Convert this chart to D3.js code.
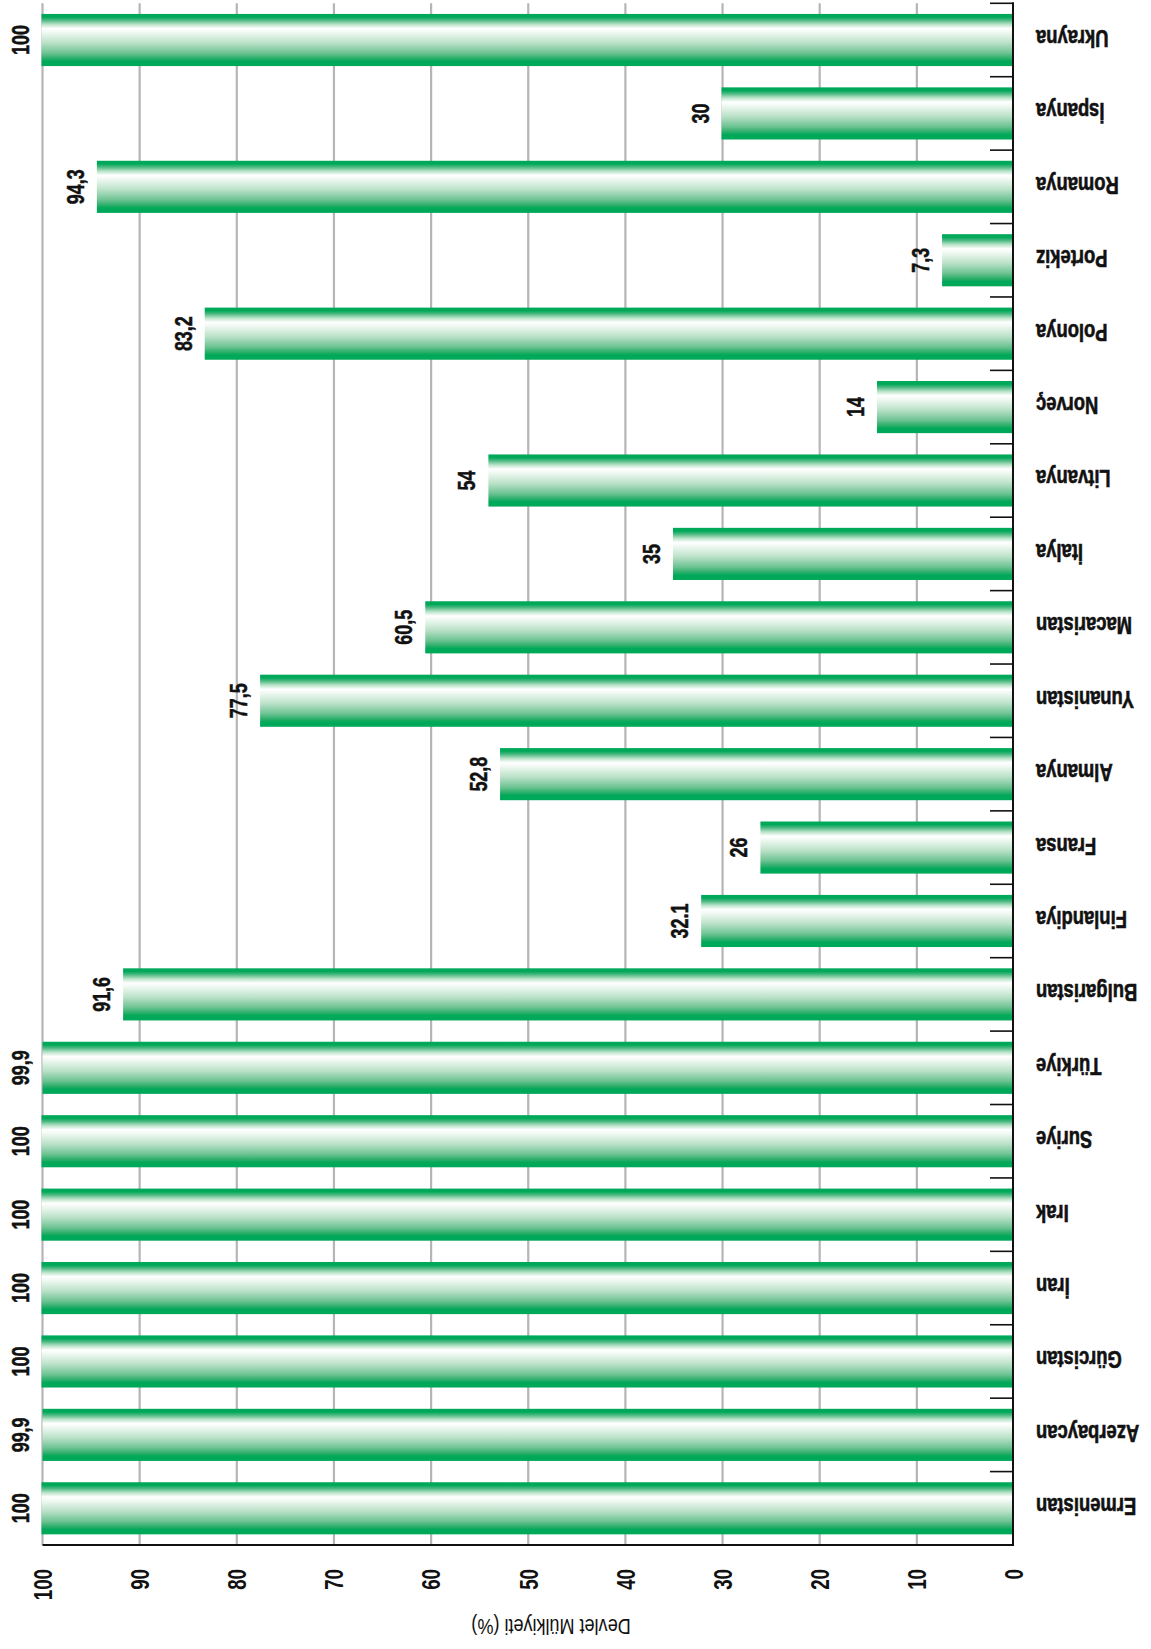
<!DOCTYPE html>
<html>
<head>
<meta charset="utf-8">
<script src="https://cdn.jsdelivr.net/npm/d3@7"></script>
<style>
  html, body { margin: 0; padding: 0; background: #ffffff; }
  svg { display: block; }
</style>
</head>
<body>
<script>
// ---- data ----
const categories = ["Ermenistan", "Azerbaycan", "Gürcistan", "İran", "Irak", "Suriye", "Türkiye",
  "Bulgaristan", "Finlandiya", "Fransa", "Almanya", "Yunanistan", "Macaristan", "İtalya",
  "Litvanya", "Norveç", "Polonya", "Portekiz", "Romanya", "İspanya", "Ukrayna"];
const values = [100, 99.9, 100, 100, 100, 100, 99.9,
  91.6, 32.1, 26, 52.8, 77.5, 60.5, 35,
  54, 14, 83.2, 7.3, 94.3, 30, 100];
const valueLabels = ["100", "99,9", "100", "100", "100", "100", "99,9",
  "91,6", "32.1", "26", "52,8", "77,5", "60,5", "35",
  "54", "14", "83,2", "7,3", "94,3", "30", "100"];
const tickValues = [0, 10, 20, 30, 40, 50, 60, 70, 80, 90, 100];
const axisTitle = "Devlet Mülkiyeti (%)";

// ---- layout ----
const W = 1151, H = 1649;
const plotLeft = 41.5, plotRight = 1013, plotTop = 3.3, plotBottom = 1545;
const font = "'Liberation Sans', Arial, sans-serif";

const svg = d3.select("body").append("svg").attr("width", W).attr("height", H);

const defs = svg.append("defs");
const grad = defs.append("linearGradient").attr("id", "barGrad")
  .attr("x1", 0).attr("y1", 0).attr("x2", 0).attr("y2", 1);
[[0, "#00a859"], [0.06, "#00a859"], [0.12, "#4cb982"], [0.2, "#b8e3c8"], [0.28, "#ffffff"],
 [0.34, "#f3faf5"], [0.55, "#bce2c9"], [0.75, "#6dc393"], [0.85, "#2daf6a"], [0.91, "#00a859"], [1, "#00a859"]]
  .forEach(([o, c]) => grad.append("stop").attr("offset", o).attr("stop-color", c));

const x = d3.scaleLinear().domain([0, 100]).range([plotRight, plotLeft]);
const y = d3.scaleBand().domain(categories.slice().reverse())
  .range([plotTop, plotBottom]).paddingInner(0.29).paddingOuter(0.145);

const data = categories.map((c, i) => ({ c, v: values[i], label: valueLabels[i] }));

// gridlines
svg.append("g").selectAll("line").data(tickValues.filter(t => t !== 0)).join("line")
  .attr("x1", d => x(d) + 1).attr("x2", d => x(d) + 1)
  .attr("y1", plotTop).attr("y2", plotBottom)
  .attr("stroke", "#b5b5b5").attr("stroke-width", 2.2);

// bars
svg.append("g").selectAll("rect").data(data).join("rect")
  .attr("x", d => x(d.v)).attr("y", d => y(d.c))
  .attr("width", d => x(0) - x(d.v)).attr("height", y.bandwidth())
  .attr("fill", "url(#barGrad)");

// value labels
svg.append("g").selectAll("text").data(data).join("text")
  .attr("transform", d => `translate(${x(d.v) - 13},${y(d.c) + y.bandwidth() / 2}) rotate(-90) scale(0.78,1)`)
  .attr("text-anchor", "middle")
  .attr("font-family", font).attr("font-weight", "bold").attr("font-size", 23)
  .attr("fill", "#111").attr("stroke", "#111").attr("stroke-width", 0.5)
  .text(d => d.label);

// category axis (right side)
const step = y.step();
const boundaries = d3.range(categories.length + 1).map(i => plotTop + i * step);
svg.append("g").selectAll("line").data(boundaries).join("line")
  .attr("x1", plotRight - 23).attr("x2", plotRight)
  .attr("y1", d => d).attr("y2", d => d)
  .attr("stroke", "#111").attr("stroke-width", 1.6);
svg.append("line").attr("x1", plotRight).attr("x2", plotRight)
  .attr("y1", plotTop - 1).attr("y2", plotBottom + 1)
  .attr("stroke", "#111").attr("stroke-width", 2);
svg.append("line").attr("x1", plotLeft + 1).attr("x2", plotRight + 1)
  .attr("y1", plotBottom).attr("y2", plotBottom)
  .attr("stroke", "#111").attr("stroke-width", 2);

svg.append("g").selectAll("text").data(categories).join("text")
  .attr("transform", d => `translate(1036,${y(d) + y.bandwidth() / 2 - 2}) rotate(180) scale(0.8,1)`)
  .attr("text-anchor", "end").attr("dy", "0.35em")
  .attr("font-family", font).attr("font-weight", "bold").attr("font-size", 23)
  .attr("fill", "#111").attr("stroke", "#111").attr("stroke-width", 0.6)
  .text(d => d);

// value axis tick labels (bottom)
svg.append("g").selectAll("text").data(tickValues).join("text")
  .attr("transform", d => `translate(${x(d) + 1},1569) rotate(-90) scale(0.72,1)`)
  .attr("text-anchor", "end").attr("dy", "0.36em")
  .attr("font-family", font).attr("font-weight", "bold").attr("font-size", 26)
  .attr("fill", "#111")
  .text(d => d);

// axis title
svg.append("text")
  .attr("transform", `translate(551,1627) rotate(180) scale(0.82,1)`)
  .attr("text-anchor", "middle").attr("dy", "0.35em")
  .attr("font-family", font).attr("font-size", 22)
  .attr("fill", "#111")
  .text(axisTitle);
</script>
</body>
</html>
